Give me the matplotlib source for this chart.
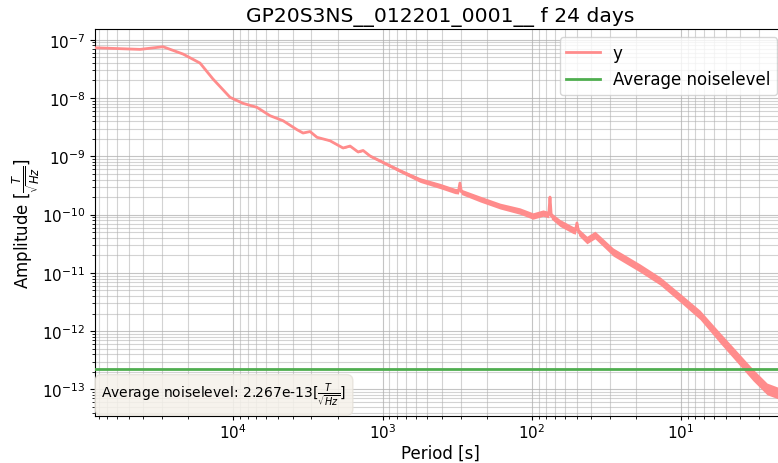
import matplotlib
matplotlib.use("Agg")
import matplotlib.pyplot as plt
import numpy as np

# amplitude spectrum, period axis in seconds
period = [84500, 42170, 29580, 21730, 16710, 13680, 10520, 8610, 6940, 5670,
          4640, 3740, 3410, 3060, 2750, 2250, 1840, 1650, 1460, 1350,
          1210, 993, 764, 561, 412, 327, 310, 303, 296, 222,
          163, 120, 98.2, 84.1, 77.0, 75.5, 74.0, 64.7, 52.9, 51.0,
          49.8, 48.5, 42.7, 37.7, 28.5, 18.8, 13.8, 10.1, 7.45, 5.47,
          4.21, 3.29, 2.65, 2.0]
amplitude = [7.29e-8, 6.84e-8, 7.59e-8, 5.69e-8, 3.98e-8, 2.12e-8, 1.03e-8, 8.11e-9, 6.92e-9, 4.97e-9,
             4.08e-9, 2.86e-9, 2.51e-9, 2.66e-9, 2.12e-9, 1.85e-9, 1.39e-9, 1.50e-9, 1.19e-9, 1.26e-9,
             1.01e-9, 7.89e-10, 5.66e-10, 3.92e-10, 3.10e-10, 2.54e-10, 2.50e-10, 3.48e-10, 2.45e-10, 1.85e-10,
             1.40e-10, 1.15e-10, 9.46e-11, 1.06e-10, 1.00e-10, 2.00e-10, 9.50e-11, 7.18e-11, 5.44e-11, 5.30e-11,
             7.20e-11, 5.00e-11, 3.66e-11, 4.47e-11, 2.28e-11, 1.21e-11, 7.26e-12, 3.71e-12, 1.90e-12, 7.64e-13,
             3.61e-13, 1.77e-13, 1.02e-13, 7.8e-14]
# half width of the noise scatter around the spectrum, in decades
scatter = [0, 0, 0, 0, 0, 0, 0, 0, 0, 0,
           0, 0, 0, 0.005, 0.005, 0.01, 0.012, 0.012, 0.015, 0.015,
           0.02, 0.025, 0.03, 0.04, 0.045, 0.045, 0.045, 0.015, 0.045, 0.05,
           0.05, 0.055, 0.055, 0.055, 0.055, 0.015, 0.055, 0.06, 0.06, 0.06,
           0.02, 0.06, 0.065, 0.065, 0.07, 0.07, 0.07, 0.075, 0.08, 0.09,
           0.095, 0.1, 0.1, 0.1]

noise_level = 2.267e-13
title = "GP20S3NS__012201_0001__ f 24 days"

period = np.array(period)
amplitude = np.array(amplitude)
scatter = np.array(scatter)

fig = plt.figure(figsize=(7.78, 4.64), dpi=100)
ax = fig.add_axes([95 / 778, 47 / 464, 690.3 / 778, 387 / 464])

red = "#ff8c8c"
ax.fill_between(period, amplitude * 10 ** -scatter, amplitude * 10 ** scatter,
                color=red, linewidth=0, zorder=3)
ax.plot(period, amplitude, color=red, linewidth=2, label="y", zorder=3)
ax.axhline(noise_level, color="#4fae4f", linewidth=2, label="Average noiselevel", zorder=3)

ax.set_xscale("log")
ax.set_yscale("log")
ax.set_xlim(84500, 2.0)
ax.set_ylim(3.5e-14, 1.53e-7)
ax.grid(True, which="major", color="#b0b0b0", linewidth=0.8, alpha=0.75)
ax.grid(True, which="minor", color="#b0b0b0", linewidth=0.8, alpha=0.55)
ax.tick_params(labelsize=11)
ax.tick_params(axis="x", which="major", length=3, pad=1.5)
ax.tick_params(axis="x", which="minor", length=2)

ax.set_title(title, fontsize=14.6)
ax.set_xlabel("Period [s]", fontsize=12, labelpad=2)
ax.set_ylabel(r"Amplitude [$\frac{T}{\sqrt{Hz}}$]", fontsize=12, labelpad=0)
ax.legend(loc="upper right", fontsize=12)

ax.text(0.0094, 0.018, r"Average noiselevel: %.3e[$\frac{T}{\sqrt{Hz}}$]" % noise_level,
        transform=ax.transAxes, fontsize=10, va="bottom", ha="left",
        bbox=dict(boxstyle="round,pad=0.45", facecolor="#f5f1ea", alpha=0.85, edgecolor="#e6e2da"),
        zorder=5)

fig.savefig("out.png", dpi=100)
